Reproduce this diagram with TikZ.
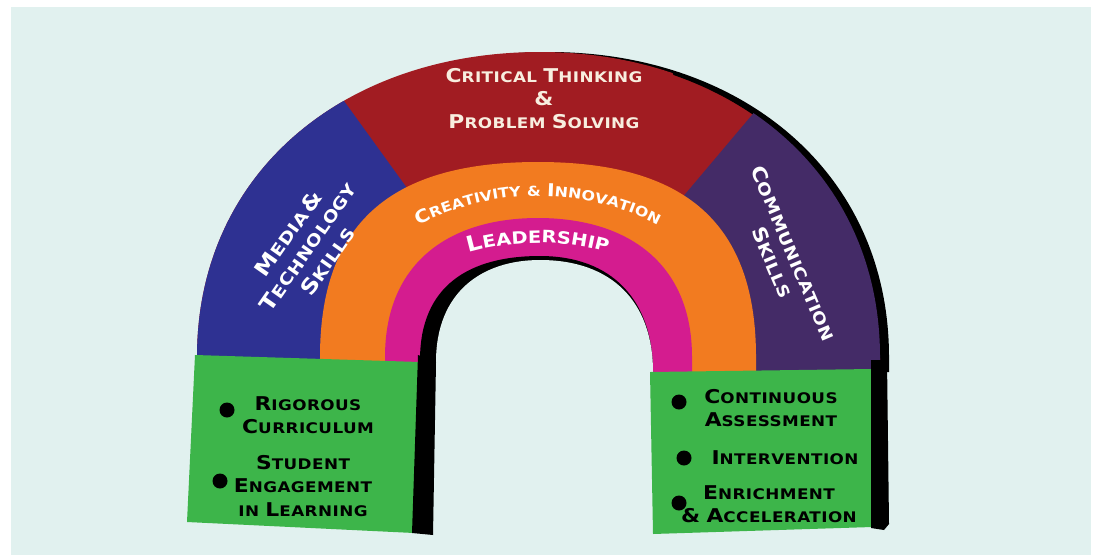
\documentclass[tikz,border=0pt]{standalone}
\usepackage{fontspec}
\newfontfamily\sk{DejaVu Sans}[FakeStretch=1.15,LetterSpace=3]
\usetikzlibrary{decorations.text}
\definecolor{panel}{HTML}{E1F1EF}
\definecolor{cblue}{HTML}{2E3192}
\definecolor{cred}{HTML}{A11C22}
\definecolor{cpurple}{HTML}{442B67}
\definecolor{corange}{HTML}{F27B20}
\definecolor{cmag}{HTML}{D41C8F}
\definecolor{cgreen}{HTML}{3DB54A}
\definecolor{cream}{HTML}{F8EEDF}
\def\bsz{17.5}
\newcommand\B[1]{{\fontsize{\bsz}{\bsz}\selectfont#1}}
\begin{document}
\begin{tikzpicture}[x=1pt,y=-1pt,
  lbl/.style={align=center,inner sep=0pt},
  boxtext/.style={lbl,text=black,font=\sk\bfseries\fontsize{14.6}{23.5}\selectfont\def\bsz{19}},
  bullet/.style={circle,fill=black,minimum size=15pt,inner sep=0pt}]
\useasboundingbox (0,0) rectangle (1099,555);
\fill[white] (0,0) rectangle (1099,555);
\fill[panel] (11,7) rectangle (1091,555);
% black shadow on the right of the arch
\fill[black,xshift=9pt] (197,372) -- (197,357) .. controls (197,172) and (345,52) .. (540,52) .. controls (732,52) and (880,172) .. (880,357) -- (880,372) -- cycle;
% outer arch
\fill[cred] (197,372) -- (197,357) .. controls (197,172) and (345,52) .. (540,52) .. controls (732,52) and (880,172) .. (880,357) -- (880,372) -- cycle;
\draw[black,line width=3pt,line cap=round] (674.1,73.6) .. controls (796.75,116.06) and (880,218.25) .. (880,357);
\begin{scope}
  \clip (197,372) -- (197,357) .. controls (197,172) and (345,52) .. (540,52) .. controls (732,52) and (880,172) .. (880,357) -- (880,372) -- cycle;
  \fill[cblue] (271,0) -- (540,372) -- (0,372) -- (0,0) -- cycle;
  \fill[cpurple] (849,0) -- (535,372) -- (1099,372) -- (1099,0) -- cycle;
\end{scope}
% orange band
\fill[corange] (320,372) -- (320,357) .. controls (320,215) and (400,162) .. (538,162) .. controls (676,162) and (756,215) .. (756,357) -- (756,372) -- cycle;
% magenta band
\fill[cmag] (385,372) -- (385,357) .. controls (385,262) and (450,218) .. (538,218) .. controls (626,218) and (692,262) .. (692,357) -- (692,372) -- cycle;
% hole with black shadow
\fill[black] (420,376) -- (420,360) .. controls (420,285) and (470,256) .. (540,256) .. controls (612,256) and (653,300) .. (653,372) -- (653,376) -- cycle;
\fill[panel] (436,390) -- (436,362) .. controls (436,292) and (482,260) .. (540,260) .. controls (612,260) and (653,302) .. (653,372) -- (653,390) -- cycle;
% green boxes
\fill[cgreen] (195,355) -- (420,362) -- (414,533) -- (187,522) -- cycle;
\fill[black] (418,355) -- (436,362) -- (433,535) -- (412,533) -- cycle;
\fill[cgreen] (650,372) -- (872,369) -- (872,527) -- (653,534) -- cycle;
\fill[black] (871,360) -- (887,360) -- (889,524) -- (884,530) -- (871,528) -- cycle;
% top text
\node[lbl,text=cream,font=\sk\bfseries\fontsize{14.6}{23}\selectfont\def\bsz{19}] (ct) at (544,99)
  {\B{C}RITICAL \B{T}HINKING\\\B{\&}\\\B{P}ROBLEM \B{S}OLVING};
\node[lbl,text=white,rotate=55,font=\sk\bfseries\fontsize{16.5}{24}\selectfont\def\bsz{21}] (mt) at (308,247)
  {\B{M}EDIA\,\B{\&}\\\B{T}ECHNOLOGY\\\B{S}KILLS};
\node[lbl,text=white,rotate=-67,font=\sk\bfseries\fontsize{16}{23}\selectfont\def\bsz{19.5}] (cs) at (783,258)
  {\B{C}OMMUNICATION\\\B{S}KILLS};
% arc texts
\path[decorate,decoration={text along path,text align=center,
  text={|\sk\bfseries\fontsize{17.8}{17.8}\selectfont\color{white}|C|\sk\bfseries\fontsize{13.8}{13.8}\selectfont\color{white}|REATIVITY {\&} |\sk\bfseries\fontsize{17.8}{17.8}\selectfont\color{white}|I|\sk\bfseries\fontsize{13.8}{13.8}\selectfont\color{white}|NNOVATION}}]
  plot[domain=-135:-45,samples=70] ({538+262*cos(\x)},{458+262*sin(\x)});
\path[decorate,decoration={text along path,text align=center,
  text={|\sk\bfseries\fontsize{21.5}{21.5}\selectfont\color{white}|L|\sk\bfseries\fontsize{17}{17}\selectfont\color{white}|EADERSHIP}}]
  plot[domain=-125:-55,samples=60] ({538+260*cos(\x)},{503+260*sin(\x)});
% left box
\node[bullet] (b1) at (227,410) {};
\node[boxtext] (t1) at (308,415) {\B{R}IGOROUS\\\B{C}URRICULUM};
\node[bullet] (b2) at (220,481) {};
\node[boxtext] (t2) at (303,486) {\B{S}TUDENT\\\B{E}NGAGEMENT\\IN \B{L}EARNING};
% right box
\node[bullet] (b3) at (679,402) {};
\node[boxtext] (t3) at (771,408) {\B{C}ONTINUOUS\\\B{A}SSESSMENT};
\node[bullet] (b4) at (684,458) {};
\node[boxtext] (t4) at (785,458) {\B{I}NTERVENTION};
\node[bullet] (b5) at (679,503) {};
\node[boxtext] (t5) at (769,504) {\B{E}NRICHMENT\\\B{\&} \B{A}CCELERATION};
\end{tikzpicture}
\end{document}
